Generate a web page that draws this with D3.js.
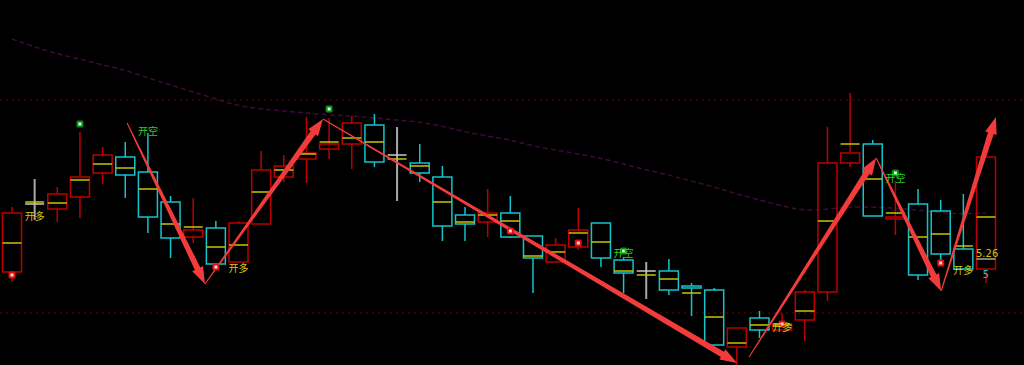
<!DOCTYPE html>
<html>
<head>
<meta charset="utf-8">
<script src="https://cdn.jsdelivr.net/npm/d3@7"></script>
<style>
  html, body { margin: 0; padding: 0; background: #000; overflow: hidden; }
  svg { display: block; }
</style>
</head>
<body>
<svg id="chart" width="1024" height="365"></svg>
<script>
// candles: open, high, low, close per bar
const opens  = [5.234,5.370,5.360,5.384,5.432,5.464,5.434,5.374,5.304,5.322,5.254,5.330,5.424,5.460,5.480,5.490,5.528,5.468,5.452,5.424,5.348,5.334,5.352,5.306,5.254,5.284,5.332,5.258,5.236,5.236,5.206,5.198,5.084,5.142,5.118,5.138,5.194,5.452,5.490,5.340,5.370,5.356,5.280,5.240];
const highs  = [5.364,5.420,5.404,5.514,5.484,5.494,5.512,5.386,5.382,5.336,5.336,5.476,5.468,5.544,5.542,5.546,5.550,5.524,5.490,5.446,5.364,5.400,5.386,5.306,5.302,5.362,5.332,5.264,5.254,5.260,5.212,5.202,5.122,5.156,5.152,5.198,5.524,5.592,5.498,5.416,5.400,5.378,5.390,5.464];
const lows   = [5.214,5.338,5.334,5.342,5.410,5.382,5.312,5.262,5.292,5.238,5.254,5.330,5.414,5.412,5.460,5.440,5.444,5.376,5.414,5.296,5.296,5.304,5.302,5.192,5.254,5.278,5.244,5.192,5.180,5.188,5.146,5.088,5.046,5.102,5.118,5.096,5.176,5.444,5.346,5.308,5.218,5.258,5.240,5.212];
const closes = [5.352,5.370,5.390,5.424,5.468,5.428,5.344,5.302,5.318,5.250,5.332,5.438,5.446,5.472,5.490,5.532,5.454,5.468,5.432,5.326,5.330,5.352,5.304,5.262,5.288,5.318,5.262,5.232,5.236,5.198,5.202,5.088,5.122,5.118,5.130,5.194,5.452,5.472,5.346,5.344,5.228,5.270,5.240,5.464];
// yellow average-price tick per bar
const avgPrice = [5.292,5.374,5.372,5.418,5.450,5.442,5.400,5.330,5.324,5.284,5.288,5.394,5.438,5.470,5.494,5.502,5.494,5.460,5.446,5.374,5.334,5.348,5.336,5.266,5.274,5.312,5.294,5.236,5.228,5.220,5.192,5.144,5.092,5.128,5.128,5.156,5.336,5.490,5.420,5.352,5.304,5.310,5.286,5.344];
// slow moving average
const maLine = [5.700,5.684,5.670,5.660,5.648,5.638,5.622,5.608,5.594,5.580,5.566,5.560,5.556,5.552,5.548,5.546,5.542,5.538,5.534,5.526,5.514,5.506,5.498,5.486,5.478,5.470,5.462,5.450,5.438,5.428,5.416,5.404,5.390,5.378,5.366,5.356,5.360,5.364,5.364,5.362,5.358,5.352,5.350,5.352];

// horizontal reference levels
const levels = [5.578, 5.152];
const lastPrice = 5.26;

// signals: [bar index, price]
const longMarks  = [[1,5.348],[10,5.244],[34,5.126],[42,5.240]];
const shortMarks = [[6,5.518],[27,5.274],[39,5.424]];
const redDots    = [[0,5.228],[9,5.244],[22,5.316],[25,5.292],[34,5.130],[41,5.252]];
const greenDots  = [[3,5.530],[14,5.560],[27,5.276],[39,5.432]];

// zigzag arrows: [fromIndex, fromPrice, toIndex, toPrice]
const arrows = [
  [5.08, 5.532, 8.52, 5.210],
  [8.52, 5.210, 13.73, 5.540],
  [13.73, 5.540, 32.01, 5.052],
  [32.54, 5.064, 38.15, 5.462],
  [38.15, 5.462, 41.02, 5.196],
  [41.02, 5.196, 43.44, 5.544]
];

const W = 1024, H = 365;
const svg = d3.select("#chart");

const x = d3.scaleLinear().domain([0, opens.length - 1]).range([12, 986]);
const y = d3.scaleLinear().domain([5.048, 5.778]).range([H, 0]);
const bodyW = 19;

const RED = "#bc0000", CYAN = "#14c4cc", GRAY = "#a8a8a8", YEL = "#c8c400";

// reference levels
svg.append("g").selectAll("line").data(levels).enter().append("line")
  .attr("x1", 0).attr("x2", W)
  .attr("y1", d => y(d)).attr("y2", d => y(d))
  .attr("stroke", "#7a0000").attr("stroke-width", 1.2)
  .attr("stroke-dasharray", "2,4");

// moving average
svg.append("path")
  .datum(maLine)
  .attr("d", d3.line().x((d, i) => x(i)).y(d => y(d)).curve(d3.curveBasis))
  .attr("fill", "none")
  .attr("stroke", "#3e0c3b")
  .attr("stroke-width", 1.4)
  .attr("stroke-dasharray", "5,3");

// candles
const bars = opens.map((o, i) => ({ i, o, h: highs[i], l: lows[i], c: closes[i], a: avgPrice[i] }));
const cg = svg.append("g");

bars.forEach(d => {
  const cx = x(d.i);
  const top = Math.max(d.o, d.c), bot = Math.min(d.o, d.c);
  const col = d.o === d.c ? GRAY : (d.c > d.o ? RED : CYAN);
  const g = cg.append("g");
  if (d.o === d.c) {
    g.append("line").attr("x1", cx).attr("x2", cx)
      .attr("y1", y(d.h)).attr("y2", y(d.l))
      .attr("stroke", col).attr("stroke-width", 2);
    g.append("line").attr("x1", cx - bodyW / 2).attr("x2", cx + bodyW / 2)
      .attr("y1", y(d.o)).attr("y2", y(d.o))
      .attr("stroke", "#c8c8c8").attr("stroke-width", 1.5);
  } else {
    g.append("line").attr("x1", cx).attr("x2", cx)
      .attr("y1", y(d.h)).attr("y2", y(top))
      .attr("stroke", col).attr("stroke-width", 1.5);
    g.append("line").attr("x1", cx).attr("x2", cx)
      .attr("y1", y(bot)).attr("y2", y(d.l))
      .attr("stroke", col).attr("stroke-width", 1.5);
    g.append("rect")
      .attr("x", cx - bodyW / 2).attr("y", y(top))
      .attr("width", bodyW).attr("height", Math.max(1, y(bot) - y(top)))
      .attr("fill", "none").attr("stroke", col).attr("stroke-width", 1.5);
  }
  g.append("line").attr("x1", cx - bodyW / 2).attr("x2", cx + bodyW / 2)
    .attr("y1", y(d.a)).attr("y2", y(d.a))
    .attr("stroke", YEL).attr("stroke-width", 1.5);
});

// last price line
const li = opens.length - 1;
svg.append("line")
  .attr("x1", x(li) - bodyW / 2).attr("x2", x(li) + bodyW / 2)
  .attr("y1", y(lastPrice)).attr("y2", y(lastPrice))
  .attr("stroke", GRAY).attr("stroke-width", 1.5);
svg.append("text")
  .attr("x", x(li) - 10).attr("y", y(lastPrice) - 2)
  .attr("fill", YEL).attr("font-family", "DejaVu Sans, sans-serif").attr("font-size", 10)
  .text(d3.format(".2f")(lastPrice));
svg.append("text")
  .attr("x", x(li)).attr("y", y(lastPrice) + 19)
  .attr("text-anchor", "middle")
  .attr("fill", CYAN).attr("font-family", "DejaVu Sans, sans-serif").attr("font-size", 10)
  .text("5");

// arrows (tapered shaft + head)
function arrowPath(x0, y0, x1, y1) {
  const dx = x1 - x0, dy = y1 - y0, len = Math.hypot(dx, dy);
  const ux = dx / len, uy = dy / len, nx = -uy, ny = ux;
  const headL = 17, headW = 12, w0 = 1, w1 = 6;
  const bx = x1 - ux * headL, by = y1 - uy * headL;
  const pts = [
    [x0 + nx * w0 / 2, y0 + ny * w0 / 2],
    [bx + nx * w1 / 2, by + ny * w1 / 2],
    [bx + nx * headW / 2, by + ny * headW / 2],
    [x1, y1],
    [bx - nx * headW / 2, by - ny * headW / 2],
    [bx - nx * w1 / 2, by - ny * w1 / 2],
    [x0 - nx * w0 / 2, y0 - ny * w0 / 2]
  ];
  return "M" + pts.map(p => p.join(",")).join("L") + "Z";
}
svg.append("g").selectAll("path").data(arrows).enter().append("path")
  .attr("d", d => arrowPath(x(d[0]), y(d[1]), x(d[2]), y(d[3])))
  .attr("fill", "#f23c3c");

// signal dots
function dots(data, fill, core) {
  const g = svg.append("g").selectAll("g").data(data).enter().append("g")
    .attr("transform", d => `translate(${x(d[0])},${y(d[1])})`);
  g.append("rect").attr("x", -3.5).attr("y", -3.5).attr("width", 7).attr("height", 7)
    .attr("rx", 1.5).attr("fill", fill);
  g.append("rect").attr("x", -1.5).attr("y", -1.5).attr("width", 3).attr("height", 3)
    .attr("fill", core);
}
dots(redDots, "#e01010", "#ffd0d0");
dots(greenDots, "#0a8a1a", "#d8ffd8");

// signal labels
function labels(data, txt, fill) {
  svg.append("g").selectAll("text").data(data).enter().append("text")
    .attr("x", d => x(d[0])).attr("y", d => y(d[1]))
    .attr("text-anchor", "middle").attr("dominant-baseline", "central")
    .attr("font-family", "Noto Sans CJK SC, sans-serif").attr("font-size", 10)
    .attr("fill", fill)
    .text(txt);
}
labels(longMarks, "开多", "#d2cc10");
labels(shortMarks, "开空", "#22d622");
</script>
</body>
</html>
